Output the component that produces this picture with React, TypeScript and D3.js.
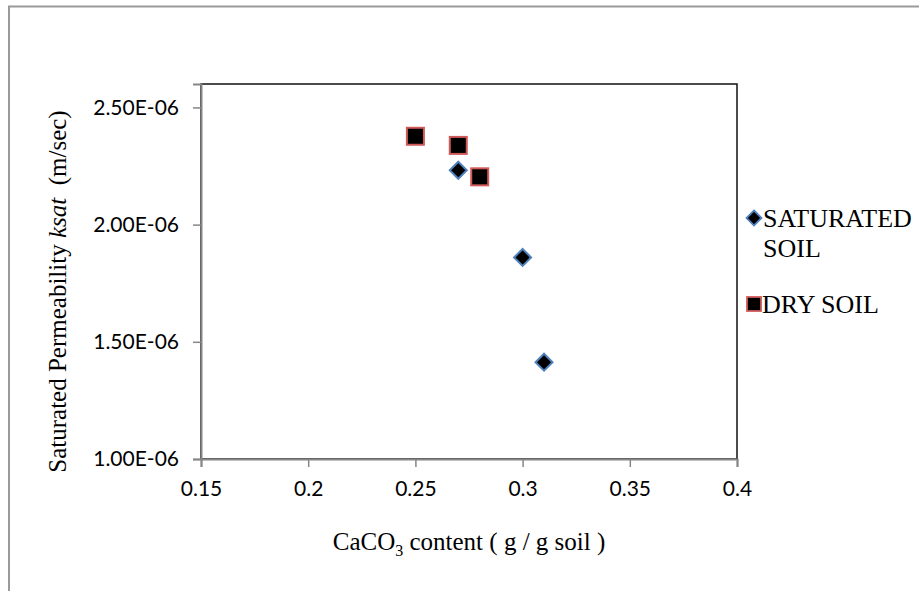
import React, { useEffect, useRef } from "react";
import * as d3 from "d3";

// data
const saturatedX = [0.27, 0.3, 0.31];
const saturatedY = [2.232e-6, 1.86e-6, 1.413e-6];
const dryX = [0.25, 0.27, 0.28];
const dryY = [2.377e-6, 2.338e-6, 2.204e-6];
const xTicks = [0.15, 0.2, 0.25, 0.3, 0.35, 0.4];
const yTicks = [1e-6, 1.5e-6, 2e-6, 2.5e-6];
const legendNames = [["SATURATED", "SOIL"], ["DRY SOIL"]];

const W = 919;
const H = 591;

// diamond path with half-diagonal r
const diamondPath = (r: number) => `M0,${-r}L${r},0L0,${r}L${-r},0Z`;

function drawChart(el: SVGSVGElement) {
  const svg = d3.select(el);
  svg.selectAll("*").remove();

  const left = 201, right = 737, top = 84, bottom = 459;
  const x = d3.scaleLinear().domain([0.15, 0.4]).range([left, right]);
  const y = d3.scaleLinear().domain([1e-6, 2.6e-6]).range([bottom, top]);

  // outer frame
  svg.append("path")
    .attr("d", `M9,${H} L9,6.5 L${W},6.5`)
    .attr("fill", "none")
    .attr("stroke", "#9a9a9a")
    .attr("stroke-width", 2);

  // plot area border
  svg.append("rect")
    .attr("x", left).attr("y", top)
    .attr("width", right - left).attr("height", bottom - top)
    .attr("fill", "none")
    .attr("stroke", "#111")
    .attr("stroke-width", 1.5);

  const tickFont = "Lato, 'Open Sans', sans-serif";

  // y axis
  const yAxis = svg.append("g")
    .attr("transform", `translate(${left},0)`)
    .call(d3.axisLeft(y).tickValues(yTicks).tickSizeOuter(0).tickSize(8).tickPadding(14)
      .tickFormat((d) => (+d * 1e6).toFixed(2) + "E-06"));
  yAxis.select(".domain").attr("stroke", "#868686").attr("stroke-width", 2);
  yAxis.selectAll(".tick line").attr("stroke", "#868686").attr("stroke-width", 1.5);
  yAxis.selectAll("text").attr("font-family", tickFont).attr("font-size", 21).attr("fill", "#000");

  // x axis
  const xAxis = svg.append("g")
    .attr("transform", `translate(0,${bottom})`)
    .call(d3.axisBottom(x).tickValues(xTicks).tickSizeOuter(0).tickSize(8).tickPadding(14)
      .tickFormat((d) => String(+d)));
  xAxis.select(".domain").attr("stroke", "#868686").attr("stroke-width", 2);
  xAxis.selectAll(".tick line").attr("stroke", "#868686").attr("stroke-width", 1.5);
  xAxis.selectAll("text").attr("font-family", tickFont).attr("font-size", 21).attr("fill", "#000");

  const serif = "'Liberation Serif', 'Times New Roman', serif";

  // axis titles
  const xt = svg.append("text")
    .attr("x", (left + right) / 2).attr("y", 550)
    .attr("text-anchor", "middle")
    .attr("font-family", serif).attr("font-size", 25);
  xt.append("tspan").text("CaCO");
  xt.append("tspan").attr("font-size", 16).attr("dy", 6).text("3");
  xt.append("tspan").attr("dy", -6).text(" content ( g / g soil )");

  const yt = svg.append("text")
    .attr("transform", `translate(66,${(top + bottom) / 2 + 20}) rotate(-90)`)
    .attr("text-anchor", "middle")
    .attr("font-family", serif).attr("font-size", 25)
    .attr("xml:space", "preserve");
  yt.append("tspan").text("Saturated Permeability ");
  yt.append("tspan").attr("font-style", "italic").text("ksat");
  yt.append("tspan").text("  (m/sec)");

  // saturated soil series
  svg.append("g").selectAll("path")
    .data(saturatedX.map((v, i) => [v, saturatedY[i]]))
    .join("path")
    .attr("d", diamondPath(8.5))
    .attr("transform", (d) => `translate(${x(d[0])},${y(d[1])})`)
    .attr("fill", "#000")
    .attr("stroke", "#4f81bd")
    .attr("stroke-width", 2);

  // dry soil series
  const sq = 17;
  svg.append("g").selectAll("rect")
    .data(dryX.map((v, i) => [v, dryY[i]]))
    .join("rect")
    .attr("x", (d) => x(d[0]) - sq / 2)
    .attr("y", (d) => y(d[1]) - sq / 2)
    .attr("width", sq).attr("height", sq)
    .attr("fill", "#000")
    .attr("stroke", "#d05a5a")
    .attr("stroke-width", 2);

  // legend
  const lg = svg.append("g");
  lg.append("path")
    .attr("d", diamondPath(7.5))
    .attr("transform", "translate(754,218)")
    .attr("fill", "#000").attr("stroke", "#4f81bd").attr("stroke-width", 1.8);
  lg.append("rect")
    .attr("x", 747).attr("y", 297).attr("width", 14).attr("height", 14)
    .attr("fill", "#000").attr("stroke", "#d05a5a").attr("stroke-width", 1.8);

  const lt = lg.append("text")
    .attr("font-family", serif).attr("font-size", 26);
  lt.append("tspan").attr("x", 763).attr("y", 227).text(legendNames[0][0]);
  lt.append("tspan").attr("x", 763).attr("y", 257).text(legendNames[0][1]);
  lt.append("tspan").attr("x", 762).attr("y", 313).text(legendNames[1][0]);
}

export default function App() {
  const ref = useRef<SVGSVGElement>(null);
  useEffect(() => {
    if (ref.current) drawChart(ref.current);
  }, []);
  return (
    <div style={{ position: "fixed", left: 0, top: 0, width: W, height: H, background: "#fff" }}>
      <svg ref={ref} width={W} height={H}></svg>
    </div>
  );
}
